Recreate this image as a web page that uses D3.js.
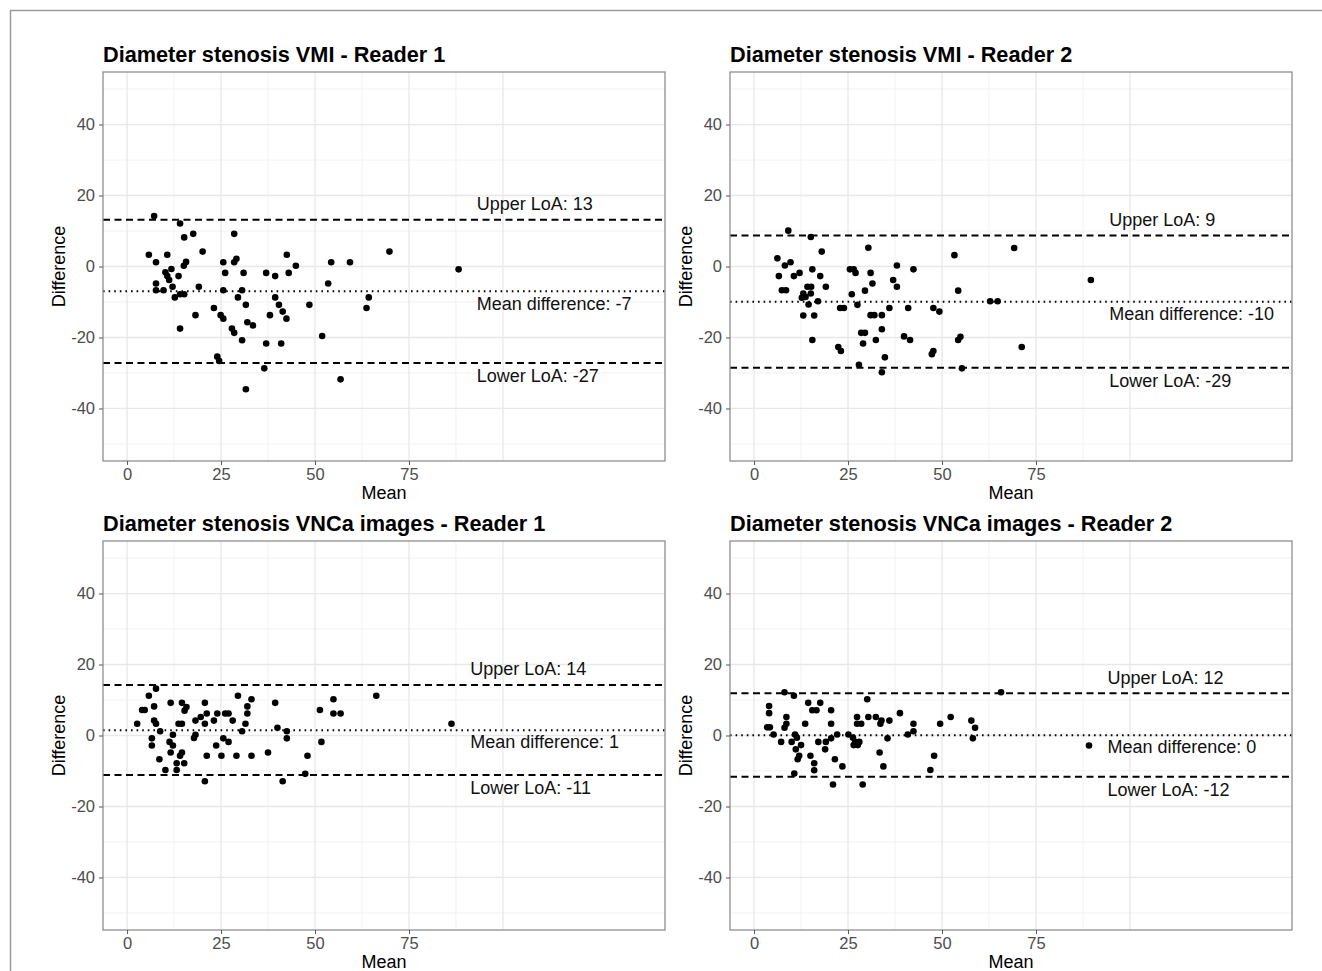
<!DOCTYPE html>
<html>
<head>
<meta charset="utf-8">
<script src="https://cdn.jsdelivr.net/npm/d3@7"></script>
<style>
  html, body { margin: 0; padding: 0; background: #fff; }
  svg { display: block; font-family: "Liberation Sans", Arial, sans-serif; }
</style>
</head>
<body>
<svg id="chart" width="1322" height="971"></svg>
<script>
// ---------------- DATA ----------------
const panelTitles = [
  "Diameter stenosis VMI - Reader 1",
  "Diameter stenosis VMI - Reader 2",
  "Diameter stenosis VNCa images - Reader 1",
  "Diameter stenosis VNCa images - Reader 2"
];

// [mean, difference] pairs
const vmiReader1 = [[7.2,14.2],[14.1,12.1],[17.6,9.2],[15.2,8.2],[28.5,9.2],[5.8,3.3],[10.7,3.3],[7.7,1.2],[20.1,4.2],[15.7,1.3],[15.1,0.2],[25.6,1.2],[29.1,2.2],[28.5,1.2],[26.1,-1.8],[31.0,-1.8],[37.0,-1.8],[39.4,-2.7],[42.5,3.3],[43.0,-1.8],[44.9,0.2],[54.3,1.2],[53.5,-4.8],[11.8,-0.7],[10.2,-1.6],[10.7,-2.7],[11.2,-3.8],[13.7,-2.7],[7.7,-4.8],[7.7,-6.7],[9.7,-6.7],[12.1,-5.7],[12.7,-8.7],[14.1,-7.8],[15.2,-7.8],[19.1,-5.7],[25.6,-6.7],[30.6,-6.7],[29.5,-8.7],[31.6,-10.8],[39.4,-8.7],[40.4,-10.8],[41.4,-12.7],[42.4,-14.7],[48.5,-10.8],[38.0,-13.7],[18.2,-13.7],[23.1,-11.7],[24.9,-13.7],[25.6,-14.7],[32.0,-15.7],[33.5,-16.6],[14.1,-17.5],[27.9,-17.5],[28.5,-18.7],[30.6,-20.8],[37.0,-21.7],[41.0,-21.7],[51.9,-19.6],[24.0,-25.4],[24.5,-26.6],[36.5,-28.7],[31.6,-34.6],[69.8,4.2],[59.3,1.2],[88.2,-0.8],[64.3,-8.7],[63.7,-11.7],[56.8,-31.8]];

const vmiReader2 = [[9.1,10.1],[15.1,8.3],[18.0,4.2],[30.4,5.3],[6.2,2.3],[8.2,0.3],[9.7,1.2],[6.6,-2.7],[10.6,-2.7],[12.1,-1.8],[15.5,-0.8],[17.6,-2.7],[19.1,-5.7],[7.4,-6.7],[8.5,-6.7],[13.1,-7.6],[12.7,-8.8],[13.7,-8.6],[14.2,-5.7],[15.2,-5.7],[15.1,-7.6],[14.5,-10.7],[17.0,-9.8],[13.1,-13.8],[16.0,-13.8],[15.5,-20.7],[25.5,-0.8],[26.5,-0.8],[27.0,-1.8],[31.0,-1.8],[31.5,-4.8],[29.5,-6.8],[26.0,-7.8],[27.5,-10.8],[22.9,-11.7],[23.9,-11.7],[38.0,0.3],[42.4,-0.8],[37.0,-3.8],[38.0,-5.7],[36.0,-11.7],[41.0,-11.7],[47.7,-11.7],[49.3,-12.7],[31.0,-13.7],[32.0,-13.7],[34.0,-13.7],[34.0,-17.7],[28.5,-18.7],[29.5,-18.7],[29.0,-21.7],[32.4,-20.7],[39.9,-19.7],[41.5,-20.7],[22.4,-22.7],[23.1,-23.8],[47.3,-24.7],[47.7,-23.8],[34.8,-25.6],[27.9,-27.7],[34.0,-29.8],[69.2,5.2],[53.3,3.2],[89.6,-3.8],[54.3,-6.8],[62.8,-9.8],[64.8,-9.8],[54.3,-20.7],[54.9,-19.8],[71.2,-22.7],[55.3,-28.7]];

const vncaReader1 = [[7.7,13.2],[5.8,11.2],[4.0,7.2],[4.7,7.2],[7.2,8.2],[2.7,3.3],[7.2,4.2],[7.7,3.3],[8.8,1.2],[6.6,-0.8],[6.6,-2.8],[11.6,9.2],[14.6,9.2],[15.8,8.0],[15.3,7.0],[13.7,3.3],[14.6,3.3],[12.2,0.2],[11.3,-1.8],[12.2,-2.8],[11.6,-4.8],[14.6,-4.8],[14.1,-5.7],[8.6,-6.7],[13.2,-7.8],[15.2,-7.8],[10.2,-9.7],[13.2,-9.7],[20.7,9.2],[18.2,4.2],[19.6,5.2],[20.7,3.3],[21.2,6.2],[17.8,-0.7],[18.2,0.2],[23.1,4.2],[24.0,6.2],[26.1,6.2],[27.0,6.2],[29.5,11.2],[32.0,8.2],[32.0,6.2],[33.1,10.2],[28.1,4.2],[31.5,3.3],[30.6,1.2],[25.6,-0.8],[27.0,-1.8],[23.7,-2.8],[21.2,-5.7],[25.1,-5.7],[29.1,-5.7],[33.1,-5.7],[37.5,-4.8],[39.4,9.2],[40.0,2.2],[42.5,1.2],[42.5,-0.8],[20.7,-12.9],[41.4,-12.9],[47.4,-10.8],[48.0,-5.7],[51.3,7.2],[51.7,-1.8],[54.9,10.2],[54.9,6.2],[56.8,6.2],[66.3,11.2],[86.3,3.3]];

const vncaReader2 = [[8.1,12.2],[10.6,11.2],[4.0,8.3],[4.0,6.3],[3.5,2.3],[4.2,2.3],[5.2,0.3],[8.6,5.2],[8.6,3.3],[8.1,2.2],[7.2,-1.8],[14.4,9.2],[17.6,9.2],[15.5,7.1],[16.6,7.1],[13.6,3.3],[10.9,0.3],[11.4,-0.6],[10.0,-1.8],[12.5,-2.7],[11.1,-3.9],[12.0,-5.7],[11.6,-6.7],[10.7,-10.7],[15.0,-5.7],[16.0,-7.8],[16.0,-9.8],[20.5,7.1],[20.5,3.3],[20.5,-0.8],[17.1,-1.8],[19.1,-1.8],[18.9,-3.9],[22.1,0.3],[21.5,-6.7],[23.5,-8.7],[21.0,-13.8],[25.1,0.3],[26.3,-0.6],[26.9,-1.8],[28.0,-1.8],[26.5,-2.7],[27.6,-2.7],[30.1,10.2],[27.4,5.2],[27.4,3.3],[28.5,3.3],[30.4,5.2],[32.4,5.2],[33.9,4.2],[33.6,3.3],[36.0,4.2],[35.5,-0.8],[33.4,-4.8],[34.4,-8.7],[28.9,-13.8],[38.8,6.3],[42.4,3.3],[42.4,1.2],[40.9,0.3],[47.9,-5.7],[46.9,-9.7],[49.5,3.3],[65.7,12.2],[52.3,5.2],[57.8,4.2],[58.8,2.2],[58.2,-0.8],[89.1,-2.8]];

const panelSeries = [vmiReader1, vmiReader2, vncaReader1, vncaReader2];

const upperLoA = [13.2, 8.7, 14.2, 11.9];
const meanDiff = [-7.0, -9.9, 1.5, 0.1];
const lowerLoA = [-27.2, -28.5, -11.1, -11.6];

const upperLabels = ["Upper LoA: 13", "Upper LoA: 9", "Upper LoA: 14", "Upper LoA: 12"];
const meanLabels  = ["Mean difference: -7", "Mean difference: -10", "Mean difference: 1", "Mean difference: 0"];
const lowerLabels = ["Lower LoA: -27", "Lower LoA: -29", "Lower LoA: -11", "Lower LoA: -12"];
const labelMeanX  = [93, 94.5, 91.3, 94];   // x (in Mean units) where annotations start

const xTicks = [0, 25, 50, 75];
const xMajorGrid = [0, 25, 50, 75, 100];
const xMinorGrid = [12.5, 37.5, 62.5, 87.5];
const yTicks = [-40, -20, 0, 20, 40];
const yMinorGrid = [-50, -30, -10, 10, 30, 50];
const xTitle = "Mean";
const yTitle = "Difference";

// ---------------- LAYOUT ----------------
const svg = d3.select("#chart");
const panelBoxes = [
  {left: 103, top: 72},
  {left: 730, top: 72},
  {left: 103, top: 541},
  {left: 730, top: 541}
];
const PW = 562, PH = 389;
const xDomain = [-6.4, 143.1];
const yDomain = [-54.8, 54.8];
const plainFmt = d => String(d);

// outer frame
svg.append("line").attr("x1", 10).attr("y1", 10.5).attr("x2", 1322).attr("y2", 10.5)
  .attr("stroke", "#9a9a9a").attr("stroke-width", 1.5);
svg.append("line").attr("x1", 10.5).attr("y1", 10).attr("x2", 10.5).attr("y2", 971)
  .attr("stroke", "#9a9a9a").attr("stroke-width", 1.5);

panelBoxes.forEach((b, i) => {
  const x = d3.scaleLinear().domain(xDomain).range([b.left, b.left + PW]);
  const y = d3.scaleLinear().domain(yDomain).range([b.top + PH, b.top]);
  const g = svg.append("g");

  g.append("rect").attr("x", b.left).attr("y", b.top).attr("width", PW).attr("height", PH).attr("fill", "#fff");

  // minor grid
  g.selectAll(".xmin").data(xMinorGrid).join("line")
    .attr("x1", d => x(d)).attr("x2", d => x(d)).attr("y1", b.top).attr("y2", b.top + PH)
    .attr("stroke", "#f2f2f2").attr("stroke-width", 1);
  g.selectAll(".ymin").data(yMinorGrid).join("line")
    .attr("y1", d => y(d)).attr("y2", d => y(d)).attr("x1", b.left).attr("x2", b.left + PW)
    .attr("stroke", "#f2f2f2").attr("stroke-width", 1);
  // major grid
  g.selectAll(".xmaj").data(xMajorGrid).join("line")
    .attr("x1", d => x(d)).attr("x2", d => x(d)).attr("y1", b.top).attr("y2", b.top + PH)
    .attr("stroke", "#e8e8e8").attr("stroke-width", 1.3);
  g.selectAll(".ymaj").data(yTicks).join("line")
    .attr("y1", d => y(d)).attr("y2", d => y(d)).attr("x1", b.left).attr("x2", b.left + PW)
    .attr("stroke", "#e8e8e8").attr("stroke-width", 1.3);

  // reference lines
  const lineG = g.append("g");
  lineG.append("line").attr("x1", b.left).attr("x2", b.left + PW)
    .attr("y1", y(upperLoA[i])).attr("y2", y(upperLoA[i]))
    .attr("stroke", "#000").attr("stroke-width", 2).attr("stroke-dasharray", "7,4.5");
  lineG.append("line").attr("x1", b.left).attr("x2", b.left + PW)
    .attr("y1", y(lowerLoA[i])).attr("y2", y(lowerLoA[i]))
    .attr("stroke", "#000").attr("stroke-width", 2).attr("stroke-dasharray", "7,4.5");
  lineG.append("line").attr("x1", b.left).attr("x2", b.left + PW)
    .attr("y1", y(meanDiff[i])).attr("y2", y(meanDiff[i]))
    .attr("stroke", "#000").attr("stroke-width", 2).attr("stroke-dasharray", "1.6,4");

  // points
  g.selectAll(".pt").data(panelSeries[i]).join("circle")
    .attr("cx", d => x(d[0])).attr("cy", d => y(d[1])).attr("r", 3.3)
    .attr("fill", "#000");

  // annotations
  const ax = x(labelMeanX[i]);
  const annot = [
    {t: upperLabels[i], yy: y(upperLoA[i]) - 16},
    {t: meanLabels[i],  yy: y(meanDiff[i]) + 12},
    {t: lowerLabels[i], yy: y(lowerLoA[i]) + 13}
  ];
  g.selectAll(".ann").data(annot).join("text")
    .attr("x", ax).attr("y", d => d.yy).attr("dy", "0.35em")
    .attr("font-size", 18).attr("fill", "#111").text(d => d.t);

  // border
  g.append("rect").attr("x", b.left).attr("y", b.top).attr("width", PW).attr("height", PH)
    .attr("fill", "none").attr("stroke", "#8f8f8f").attr("stroke-width", 1.3);

  // axes
  const yAxis = d3.axisLeft(y).tickValues(yTicks).tickSize(4).tickPadding(4).tickFormat(plainFmt);
  const ya = g.append("g").attr("transform", `translate(${b.left},0)`).call(yAxis);
  ya.select(".domain").remove();
  ya.selectAll("line").attr("stroke", "#555");
  ya.selectAll("text").attr("font-size", 16.5).attr("fill", "#4d4d4d")
    .attr("font-family", "'Liberation Sans', Arial, sans-serif");

  const xAxis = d3.axisBottom(x).tickValues(xTicks).tickSize(4).tickPadding(3).tickFormat(plainFmt);
  const xa = g.append("g").attr("transform", `translate(0,${b.top + PH})`).call(xAxis);
  xa.select(".domain").remove();
  xa.selectAll("line").attr("stroke", "#555");
  xa.selectAll("text").attr("font-size", 16.5).attr("fill", "#4d4d4d")
    .attr("font-family", "'Liberation Sans', Arial, sans-serif");

  // axis titles
  g.append("text").attr("x", b.left + PW / 2).attr("y", b.top + PH + 38)
    .attr("text-anchor", "middle").attr("font-size", 18).attr("fill", "#000").text(xTitle);
  g.append("text")
    .attr("transform", `translate(${b.left - 44},${b.top + PH / 2}) rotate(-90)`)
    .attr("dy", "0.35em").attr("text-anchor", "middle").attr("font-size", 18).attr("fill", "#000")
    .text(yTitle);

  // title
  g.append("text").attr("x", b.left).attr("y", b.top - 10)
    .attr("font-size", 21.7).attr("font-weight", "bold").attr("fill", "#000").text(panelTitles[i]);
});
</script>
</body>
</html>
